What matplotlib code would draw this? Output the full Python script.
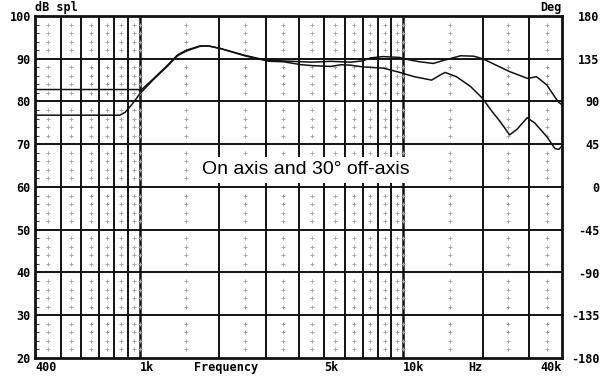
import numpy as np
import matplotlib.pyplot as plt
from matplotlib.transforms import blended_transform_factory

# on-axis response (Hz, dB)
freq_on = [400, 700, 990, 1000, 1120, 1260, 1390, 1500, 1690, 1820, 2020, 2500,
           2800, 3100, 3500, 4100, 4500, 5300, 6300, 7000, 7500, 8400, 9700,
           10000, 11500, 13000, 14000, 16500, 18500, 20000, 22500, 25300,
           29600, 32000, 35000, 38600, 40000]
db_on = [82.8, 82.8, 82.8, 82.4, 85.2, 88.2, 90.9, 92.0, 93.0, 93.0, 92.4, 90.8,
         90.1, 89.6, 89.5, 89.3, 89.2, 89.4, 89.2, 89.5, 90.2, 90.5, 90.3,
         90.0, 89.3, 88.9, 89.5, 90.7, 90.6, 90.0, 88.5, 87.0,
         85.4, 85.8, 83.9, 80.0, 79.2]

# 30 degree off-axis response (Hz, dB)
freq_off = [400, 600, 840, 880, 930, 1000, 1120, 1260, 1390, 1500, 1690, 1820,
            2020, 2500, 2800, 3100, 3500, 4100, 4500, 5300, 5800, 6300, 7000,
            8400, 9700, 11000, 12800, 13800, 14400, 15900, 18000, 20000, 21500,
            23300, 25300, 27000, 29500, 31500, 35000, 37600, 38900, 40000]
db_off = [76.8, 76.8, 76.8, 77.5, 79.2, 81.8, 85.0, 88.0, 90.7, 91.8, 92.9, 93.0,
          92.4, 90.7, 90.0, 89.4, 89.3, 88.6, 88.4, 88.2, 88.6, 88.5, 88.1,
          87.8, 86.8, 85.8, 85.0, 86.2, 86.8, 85.8, 83.5, 80.7, 78.0,
          75.3, 72.2, 73.5, 76.2, 75.0, 71.8, 69.0, 68.8, 69.6]

grid_freqs = [500, 600, 700, 800, 900, 1000, 2000, 3000, 4000, 5000, 6000, 7000,
              8000, 9000, 10000, 20000, 30000]
dot_freqs = [450, 550, 650, 750, 850, 950, 1000, 1500, 2500, 3500, 4500, 5500,
             6500, 7500, 8500, 9500, 10000, 15000, 25000, 35000]
db_ticks = [20, 30, 40, 50, 60, 70, 80, 90, 100]
deg_ticks = [-180, -135, -90, -45, 0, 45, 90, 135, 180]
x_labels = [(400, '400', 'left'), (1000, '1k', 'left'), (2120, 'Frequency', 'center'),
            (5000, '5k', 'left'), (10000, '10k', 'left'), (18700, 'Hz', 'center'),
            (40000, '40k', 'right')]

mono = {'family': 'DejaVu Sans Mono', 'weight': 'bold', 'size': 8.5}

fig = plt.figure(figsize=(6.0, 3.86), dpi=100)
ax = fig.add_axes([35 / 600, 28 / 386, 527 / 600, 342 / 386])
ax.set_xscale('log')
ax.set_xlim(400, 40000)
ax.set_ylim(20, 100)

# grid
for f in grid_freqs:
    lw = 1.8 if f in (1000, 10000) else 1.4
    ax.axvline(f, color='#111111', lw=lw, zorder=1)
for d in db_ticks[1:-1]:
    ax.axhline(d, color='#111111', lw=1.4, zorder=1)

dot_db = [d for d in range(22, 100, 2) if d % 10 != 0]
fx, fy = np.meshgrid(dot_freqs, dot_db)
ax.plot(fx.ravel(), fy.ravel(), '+', color='#a8a8a8', ms=2.5, mew=0.7, zorder=1)

# curves
ax.plot(freq_on, db_on, color='#111111', lw=1.1, zorder=3)
ax.plot(freq_off, db_off, color='#111111', lw=1.1, zorder=3)

ax.text(4270, 64.0, 'On axis and 30\u00b0 off-axis', family='Liberation Sans',
        fontsize=14, ha='center', va='center', zorder=4,
        bbox=dict(boxstyle='square,pad=0.25', fc='white', ec='none'))

for s in ax.spines.values():
    s.set_linewidth(2)
    s.set_color('#111111')

ax.set_yticks(db_ticks)
ax.set_yticks(dot_db, minor=True)
ax.set_yticklabels([str(d) for d in db_ticks], fontdict=mono)
ax.tick_params(axis='y', which='major', length=0, pad=3)
ax.tick_params(axis='y', which='minor', length=3, width=0.8, direction='in',
               right=True, color='#333333')
ax.set_xticks([])
ax.set_xticks([], minor=True)

tr = blended_transform_factory(ax.transData, ax.transAxes)
for f, lab, ha in x_labels:
    ax.text(f, -0.008, lab, transform=tr, ha=ha, va='top', **mono)

ax2 = ax.twinx()
ax2.set_ylim(-180, 180)
ax2.set_yticks(deg_ticks)
ax2.set_yticklabels([str(d) for d in deg_ticks], fontdict=mono)
for lab in ax2.get_yticklabels():
    lab.set_horizontalalignment('right')
ax2.tick_params(axis='y', length=0, pad=27)
for s in ax2.spines.values():
    s.set_visible(False)

ax.text(0.0, 1.005, 'dB spl', transform=ax.transAxes, ha='left', va='bottom', **mono)
ax.text(1.0, 1.005, 'Deg', transform=ax.transAxes, ha='right', va='bottom', **mono)

fig.savefig('out.png', dpi=100, facecolor='white')
